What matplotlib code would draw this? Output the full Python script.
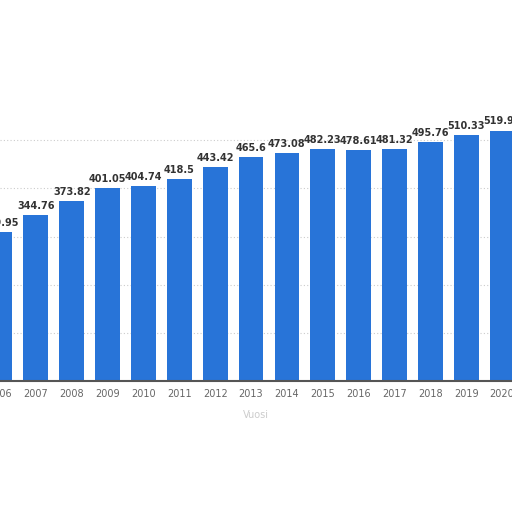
import matplotlib
matplotlib.use("Agg")
import matplotlib.pyplot as plt

years = [2006, 2007, 2008, 2009, 2010, 2011, 2012, 2013, 2014, 2015, 2016, 2017, 2018, 2019, 2020]
values = [309.95, 344.76, 373.82, 401.05, 404.74, 418.5, 443.42, 465.6, 473.08, 482.23, 478.61, 481.32, 495.76, 510.33, 519.96]
labels = ["309.95", "344.76", "373.82", "401.05", "404.74", "418.5", "443.42", "465.6", "473.08",
          "482.23", "478.61", "481.32", "495.76", "510.33", "519.96"]

fig = plt.figure(figsize=(5.12, 5.12), dpi=100)
ax = fig.add_axes([0, 1 - 381 / 512, 1, 289 / 512])
bars = ax.bar(years, values, width=0.69, color="#2874d8", zorder=2)
ax.set_xlim(2006.174, 2020.278)
ax.set_ylim(0, 600)
ax.set_yticks([100, 200, 300, 400, 500])
ax.yaxis.grid(True, linestyle=(0, (1, 2)), color="#cccccc", linewidth=0.8, zorder=0)
ax.tick_params(axis="y", left=False, labelleft=False)
ax.tick_params(axis="x", length=0, pad=6, labelsize=7, labelcolor="#666666")
ax.set_xticks(years)
ax.set_xticklabels([str(y) for y in years])
for s in ["top", "right", "left"]:
    ax.spines[s].set_visible(False)
ax.spines["bottom"].set_color("#555555")
ax.spines["bottom"].set_linewidth(1.5)
for b, lab in zip(bars, labels):
    ax.annotate(lab, (b.get_x() + b.get_width() / 2, b.get_height()), xytext=(0, 3),
                textcoords="offset points", ha="center", va="bottom",
                fontsize=7, fontweight="bold", color="#333333")
ax.set_xlabel("Vuosi", fontsize=7, color="#cccccc", labelpad=8)
fig.savefig("out.png", dpi=100)
